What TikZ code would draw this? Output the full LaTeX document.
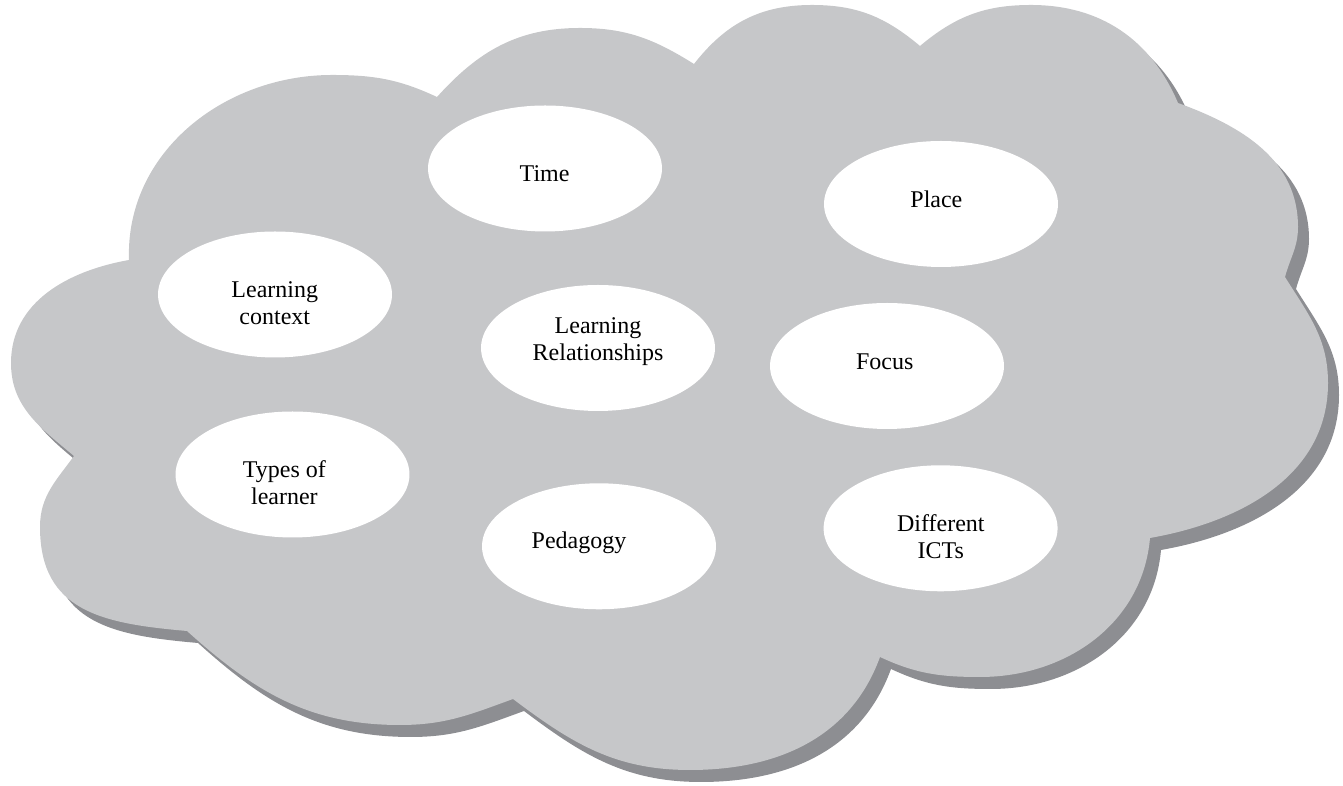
\documentclass[tikz,border=0pt]{standalone}
\usepackage{fontspec}
\setmainfont{Liberation Serif}
\usetikzlibrary{shapes.geometric}
\definecolor{cloudfill}{RGB}{198,199,201}
\definecolor{cloudshadow}{RGB}{141,142,146}
\begin{document}
\begin{tikzpicture}[x=0.02cm,y=0.02cm,
  bubble/.style={ellipse, fill=white, minimum width=4.68cm, minimum height=2.52cm, inner sep=0pt},
  lbl/.style={font=\fontsize{13.66}{15.6}\selectfont, align=center, inner sep=0pt, anchor=base}]
\useasboundingbox (0,0) rectangle (1343,786);
\coordinate (C1) at (129,526);
\coordinate (C2) at (437,689);
\coordinate (C3) at (694,722);
\coordinate (C4) at (920,740);
\coordinate (C5) at (1178,683);
\coordinate (C6) at (1285,509);
\coordinate (C7) at (1150,248);
\coordinate (C8) at (880,129);
\coordinate (C9) at (513,87);
\coordinate (C10) at (187,155);
\coordinate (C11) at (74,330);
\path[fill=cloudfill, preaction={fill=cloudshadow, transform canvas={xshift=0.22cm, yshift=-0.24cm}}]
  (C1) to[out=92,in=180] (332,711) to[out=0,in=155] (C2)
  to[out=48,in=180] (580,758) to[out=0,in=148] (C3)
  to[out=52,in=180] (812,781) to[out=0,in=140] (C4)
  to[out=40,in=180] (1031,781) to[out=0,in=113] (C5)
  to[out=-20,in=90] (1298,559) to[out=-90,in=75] (C6)
  to[out=-58,in=90] (1328,403) to[out=-90,in=10] (C7)
  to[out=-95,in=0] (980,109) to[out=180,in=-25] (C8)
  to[out=-110,in=0] (690,16) to[out=180,in=-37] (C9)
  to[out=200,in=0] (400,61) to[out=180,in=-42] (C10)
  to[out=175,in=-90,looseness=1.2] (40,259) to[out=90,in=-126] (C11)
  to[out=140,in=-90] (11,423) to[out=90,in=190] (C1) -- cycle;
\node[bubble] (time) at (545,617.5) {};
\node[bubble] (place) at (941,582) {};
\node[bubble] (ctx) at (275,491.5) {};
\node[bubble] (rel) at (598,438) {};
\node[bubble] (focus) at (887,420) {};
\node[bubble] (types) at (292.5,311.5) {};
\node[bubble] (ped) at (599,239.7) {};
\node[bubble] (ict) at (940.6,257.7) {};
\node[lbl] (ttime) at (544.6,604.3) {Time};
\node[lbl] (tplace) at (936.4,578.7) {Place};
\node[lbl] (tctx) at (274.8,461) {Learning\\context};
\node[lbl] (trel) at (598,425.3) {Learning\\Relationships};
\node[lbl] (tfocus) at (884.7,416.7) {Focus};
\node[lbl] (ttypes) at (284.4,281) {Types of\\learner};
\node[lbl] (tped) at (579,237.7) {Pedagogy};
\node[lbl] (tict) at (940.8,227) {Different\\ICTs};
\end{tikzpicture}
\end{document}
